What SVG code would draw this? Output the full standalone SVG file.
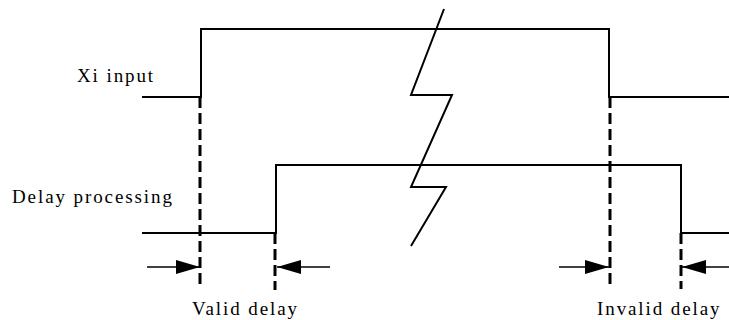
<svg xmlns="http://www.w3.org/2000/svg" width="729" height="320" viewBox="0 0 729 320">
<defs>
<style>
.sig{fill:none;stroke:#000;stroke-width:2}
.dash{fill:none;stroke:#000;stroke-width:3;stroke-dasharray:11,5}
.arr{fill:none;stroke:#000;stroke-width:1.5}
text{font-family:'Liberation Serif','DejaVu Serif',serif;font-size:19px;letter-spacing:1.9px;fill:#000}
</style>
<marker id="ah" viewBox="0 0 24 14" refX="24" refY="7" markerWidth="24" markerHeight="14" markerUnits="userSpaceOnUse" orient="auto">
<path d="M0,0 L24,7 L0,14 Z" fill="#000"/>
</marker>
</defs>
<rect width="729" height="320" fill="#fff"/>
<g id="xi-input">
<path class="sig" d="M142,97 H201 V29 H609 V97 H729"/>
<text x="77" y="82" font-family="Liberation Serif, serif">Xi input</text>
</g>
<g id="delay-processing">
<path class="sig" d="M142,233 H276 V165 H681 V233 H729"/>
<text x="12" y="203" font-family="Liberation Serif, serif">Delay processing</text>
</g>
<g id="break">
<path class="sig" d="M444,9 L411,95 L452,95 L411,187 L446,187 L411,246"/>
</g>
<g id="connectors">
<path class="dash" d="M200,97 V286"/>
<path class="dash" d="M275,233 V290"/>
<path class="dash" d="M610,97 V284"/>
<path class="dash" d="M681,233 V289"/>
<path class="arr" d="M147,267 H200" marker-end="url(#ah)"/>
<path class="arr" d="M330,267 H277" marker-end="url(#ah)"/>
<path class="arr" d="M559,267 H609" marker-end="url(#ah)"/>
<path class="arr" d="M729,267 H682" marker-end="url(#ah)"/>
</g>
<g id="valid-delay">
<text x="192" y="315" font-family="Liberation Serif, serif">Valid delay</text>
</g>
<g id="invalid-delay">
<text x="597" y="315" font-family="Liberation Serif, serif">Invalid delay</text>
</g>
</svg>
